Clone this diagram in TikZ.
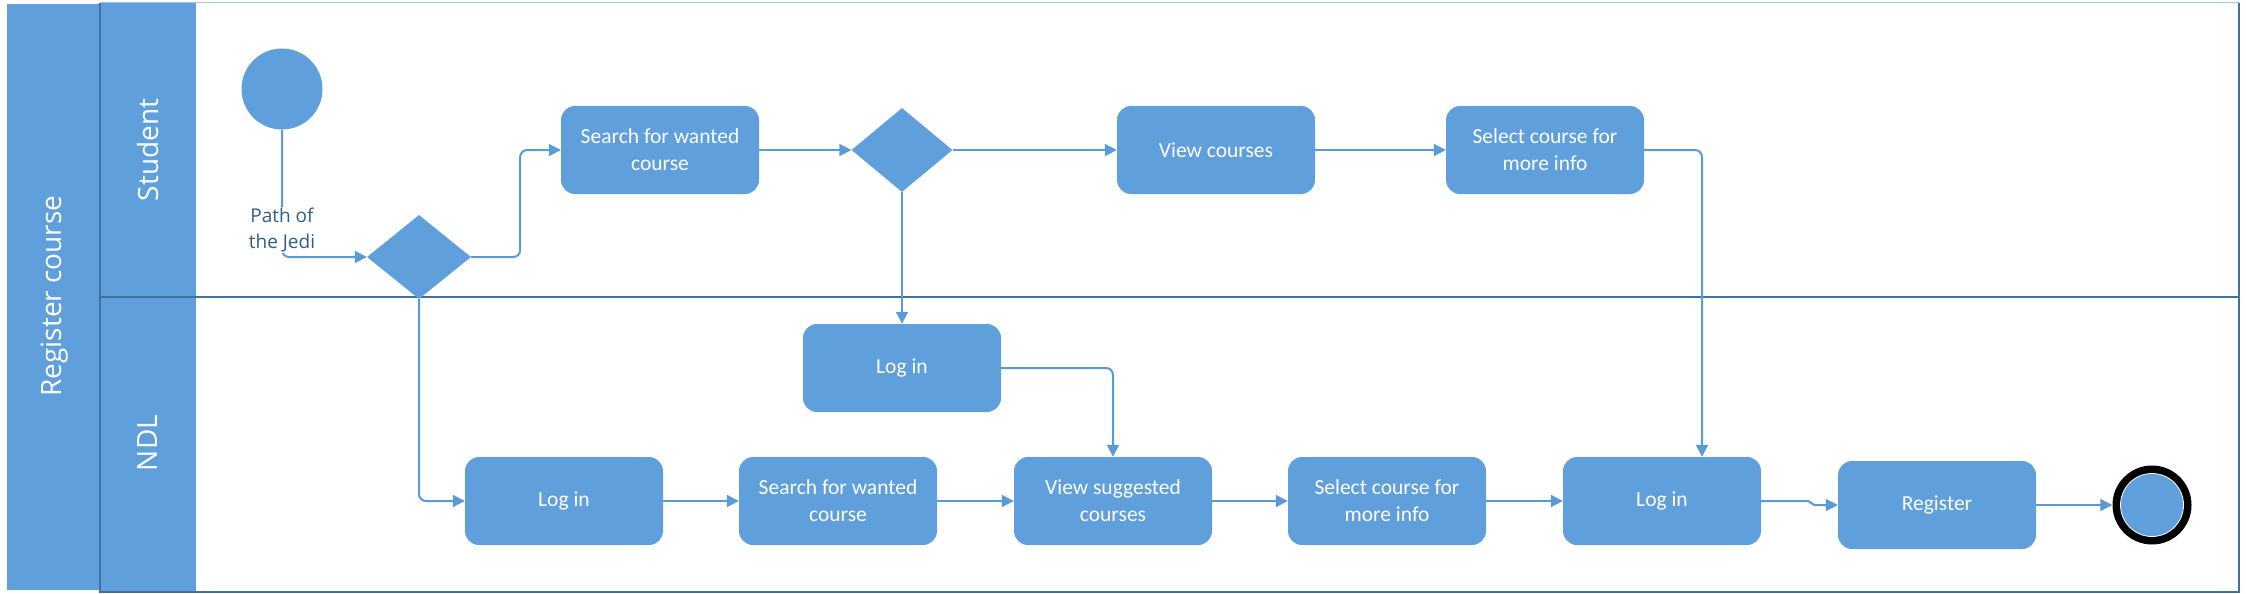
\documentclass[tikz,border=0pt]{standalone}
\usepackage{fontspec}
\setmainfont{Carlito}
\newfontfamily\lanefont{Open Sans}
\usetikzlibrary{arrows.meta,shapes.geometric}
\definecolor{vblue}{RGB}{95,160,220}
\definecolor{vline}{RGB}{91,155,213}
\definecolor{vdark}{RGB}{65,113,156}
\definecolor{vlabel}{RGB}{47,94,140}
\definecolor{vlight}{RGB}{157,195,230}
\begin{document}
\begin{tikzpicture}[x=1pt,y=-1pt,
  act/.style={rectangle, rounded corners=14pt, fill=vblue, minimum width=198pt, minimum height=88pt, text=white, align=center, font=\fontsize{21.5}{27}\selectfont, inner sep=0pt},
  dec/.style={diamond, fill=vblue, minimum width=104pt, minimum height=84pt, inner sep=0pt},
  flow/.style={draw=vline, line width=2pt, rounded corners=7pt, -{Triangle[length=12pt,width=12pt]}},
  lanetext/.style={text=white, font=\lanefont\fontsize{28}{34}\selectfont, rotate=90},
  lanebox/.style={fill=vblue, draw=none},
  laneline/.style={draw=vdark, line width=2.5pt}
]
\useasboundingbox (0,0) rectangle (2246,594);
% pool and lanes
\path[lanebox] (7,4) rectangle (100,590);
\path[lanebox] (100,3) rectangle (196,592);
\draw[vlight, line width=1pt] (100,3) -- (2239,3);
\draw[laneline] (100,3) -- (100,592) -- (2239,592) -- (2239,3);
\draw[laneline] (100,297) -- (2239,297);
\node[lanetext] (pool) at (55,296) {Register course};
\node[lanetext] (lstudent) at (148,150) {Student};
\node[lanetext] (lndl) at (148,443) {NDL};
% nodes
\node[circle, fill=vblue, minimum size=81pt, inner sep=0pt] (start) at (282,89) {};
\node[dec] (d1) at (419,257) {};
\node[act] (sS) at (660,150) {Search for wanted\\course};
\node[dec, minimum width=101pt] (d2) at (902,150) {};
\node[act] (sV) at (1216,150) {View courses};
\node[act] (sSel) at (1545,150) {Select course for\\more info};
\node[act] (nLogTop) at (902,368) {Log in};
\node[act] (nLog1) at (564,501) {Log in};
\node[act] (nSearch) at (838,501) {Search for wanted\\course};
\node[act] (nView) at (1113,501) {View suggested\\courses};
\node[act] (nSel) at (1387,501) {Select course for\\more info};
\node[act] (nLog2) at (1662,501) {Log in};
\node[act] (nReg) at (1937,505) {Register};
\node[circle, fill=black, minimum size=79pt, inner sep=0pt] (fin) at (2152,505) {};
\node[circle, fill=vblue, draw=white, line width=0.8pt, minimum size=63pt, inner sep=0pt] (fininner) at (fin.center) {};
% connectors
\draw[flow] (start.south) |- (d1.west);
\node[fill=white, text=vlabel, align=center, inner sep=1pt, font=\lanefont\fontsize{19}{26}\selectfont] (jedi) at (282,230) {Path of\\the Jedi};
\draw[flow] (d1.east) -- ++(49,0) |- (sS.west);
\draw[flow] (sS.east) -- (d2.west);
\draw[flow] (d2.east) -- (sV.west);
\draw[flow] (sV.east) -- (sSel.west);
\draw[flow] (sSel.east) -| ([xshift=40pt]nLog2.north);
\draw[flow] (d2.south) -- (nLogTop.north);
\draw[flow] (nLogTop.east) -| (nView.north);
\draw[flow] (d1.south) |- (nLog1.west);
\draw[flow] (nLog1.east) -- (nSearch.west);
\draw[flow] (nSearch.east) -- (nView.west);
\draw[flow] (nView.east) -- (nSel.west);
\draw[flow] (nSel.east) -- (nLog2.west);
\draw[flow, rounded corners=0pt] (nLog2.east) -- ++(47,0) -- ++(6,4) -- (nReg.west);
\draw[flow] (nReg.east) -- (fin.west);
\end{tikzpicture}
\end{document}
